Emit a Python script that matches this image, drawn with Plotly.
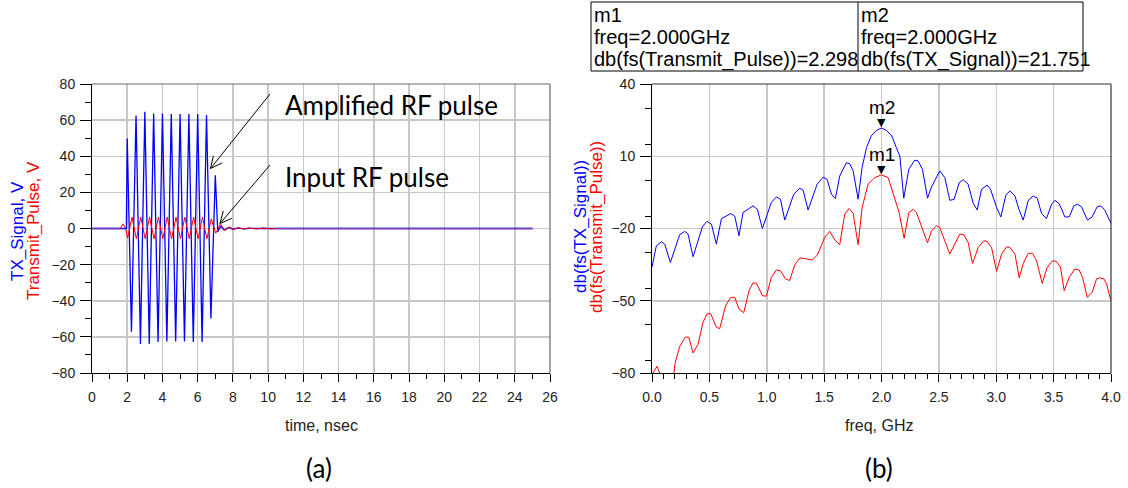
import math
import plotly.graph_objects as go

# ---------------- data : (a) time domain ----------------
tx_t = [0.0, 1.95, 2.0, 2.24, 2.5, 2.75, 3.0, 3.25, 3.5, 3.75, 4.0, 4.25, 4.5, 4.75, 5.0, 5.25,
        5.5, 5.75, 6.0, 6.25, 6.5, 6.75, 7.0, 7.14, 7.3, 7.5, 7.75, 8.0, 8.3, 8.6, 9.0, 9.5, 25.0]
tx_v = [0.0, 0.0, 49.8, -57.2, 62.6, -63.9, 64.6, -63.9, 63.7, -62.9, 63.7, -62.6, 63.4, -62.6, 63.4, -62.6,
        63.4, -62.9, 63.4, -62.9, 62.9, -49.8, 29.5, -1.8, 1.2, -0.8, 0.6, -0.4, 0.3, -0.2, 0.1, 0.0, 0.0]

tp_t = [0.0, 1.6, 1.76, 1.9, 2.02, 2.27, 2.52, 2.77, 3.02, 3.27, 3.52, 3.77, 4.02, 4.27, 4.52, 4.77,
        5.02, 5.27, 5.52, 5.77, 6.02, 6.27, 6.52, 6.77, 7.03, 7.29, 7.54, 7.8, 8.05, 8.3, 8.6, 8.9,
        9.3, 9.7, 10.1, 10.5, 25.0]
tp_v = [0.0, 0.0, 2.6, 0.0, -5.3, 6.3, -5.7, 6.3, -5.7, 6.3, -5.7, 6.3, -5.7, 6.3, -5.7, 6.3,
        -5.7, 6.3, -5.7, 6.3, -5.7, 6.3, -5.7, 5.3, -2.6, 2.6, -1.1, 0.7, -0.5, 0.5, -0.3, 0.4,
        -0.3, 0.3, -0.2, 0.0, 0.0]

# where both waveforms sit on 0 V together (rendered as the blended purple line)
overlap_t = [0.0, 1.55, None, 10.5, 25.0]
overlap_v = [0.0, 0.0, None, 0.0, 0.0]

# ---------------- data : (b) spectra ----------------
f_tx = [0.0, 0.038, 0.082, 0.111, 0.16, 0.241, 0.285, 0.314, 0.358, 0.44, 0.48, 0.518, 0.561, 0.605,
        0.686, 0.721, 0.758, 0.793, 0.88, 0.918, 0.962, 1.04, 1.084, 1.119, 1.157, 1.235, 1.288,
        1.317, 1.36, 1.439, 1.491, 1.526, 1.564, 1.598, 1.636, 1.694, 1.723, 1.753, 1.796, 1.831,
        1.869, 1.91, 1.955, 2.0, 2.045, 2.09, 2.13, 2.16, 2.194, 2.238, 2.29, 2.319, 2.357, 2.401,
        2.436, 2.508, 2.552, 2.595, 2.633, 2.677, 2.712, 2.755, 2.799, 2.834, 2.872, 2.921, 2.95,
        3.003, 3.04, 3.084, 3.119, 3.163, 3.197, 3.235, 3.279, 3.322, 3.357, 3.395, 3.438, 3.482,
        3.511, 3.549, 3.598, 3.636, 3.676, 3.708, 3.743, 3.795, 3.836, 3.879, 3.911, 3.946, 4.0]
db_tx = [-36.1, -27.2, -25.5, -26.5, -34.1, -22.6, -21.2, -22.3, -31.7, -19.2, -17.0, -18.2, -26.5, -15.9,
         -13.8, -14.8, -23.0, -13.4, -10.6, -12.0, -20.0, -9.2, -6.9, -7.8, -16.5, -5.8, -3.3,
         -4.1, -12.3, -1.6, 1.3, 0.4, -5.8, -7.6, 1.8, 7.3, 6.9, 3.9, -7.8, 5.4,
         13.5, 18.4, 20.7, 21.751, 20.7, 18.4, 13.5, 10.0, -7.4, 4.6, 8.4, 8.0, 4.6, -7.4,
         -2.7, 3.9, 1.1, -8.3, -7.9, -1.0, 0.3, -1.6, -9.5, -12.3, -3.7, -2.0, -3.7,
         -11.3, -15.2, -6.1, -4.4, -6.5, -12.0, -16.5, -8.3, -6.5, -7.4, -13.8, -15.9, -9.9,
         -8.3, -9.7, -15.2, -15.2, -10.6, -9.9, -11.0, -16.5, -15.2, -11.0, -10.6, -12.4, -17.9]

f_tp = [0.0, 0.009, 0.044, 0.067, 0.1, 0.15, 0.19, 0.2, 0.241, 0.29, 0.32, 0.358, 0.401, 0.445, 0.48,
        0.512, 0.561, 0.59, 0.642, 0.686, 0.721, 0.758, 0.799, 0.846, 0.88, 0.91, 0.962, 0.997,
        1.04, 1.084, 1.119, 1.163, 1.2, 1.244, 1.288, 1.325, 1.398, 1.441, 1.505, 1.549, 1.593,
        1.636, 1.68, 1.718, 1.753, 1.796, 1.831, 1.883, 1.941, 2.0, 2.058, 2.102, 2.154, 2.197,
        2.238, 2.276, 2.305, 2.401, 2.436, 2.479, 2.508, 2.595, 2.639, 2.683, 2.718, 2.755, 2.793,
        2.843, 2.892, 2.921, 2.959, 3.003, 3.047, 3.09, 3.119, 3.163, 3.2, 3.235, 3.279, 3.316,
        3.351, 3.401, 3.444, 3.491, 3.525, 3.56, 3.592, 3.636, 3.685, 3.723, 3.752, 3.793, 3.836,
        3.874, 3.903, 3.938, 3.961, 4.0]
db_tp = [-80.5, -80.0, -77.2, -80.0, -88.0, -86.0, -80.5, -76.0, -69.0, -65.1, -65.1, -71.7, -68.1, -58.9, -55.4,
         -55.4, -61.0, -61.6, -52.0, -48.6, -48.6, -53.4, -55.0, -45.8, -42.6, -42.7, -47.9, -48.1,
         -40.3, -37.2, -37.5, -40.9, -41.6, -35.1, -32.3, -32.4, -33.1, -31.0, -23.7, -21.2, -24.8,
         -26.7, -14.0, -11.7, -13.7, -26.7, -11.3, -1.6, 1.1, 2.298, 1.1, -5.1, -13.4, -24.1,
         -13.4, -12.0, -13.4, -26.0, -20.9, -18.9, -19.6, -30.6, -26.5, -22.3, -22.6, -25.8, -34.5,
         -27.9, -25.1, -25.4, -27.9, -37.8, -30.6, -27.6, -27.9, -30.6, -40.5, -34.5, -30.3, -30.3,
         -33.4, -42.8, -36.1, -33.4, -33.7, -36.1, -45.8, -40.3, -36.8, -37.2, -40.3, -48.6, -46.5,
         -40.9, -40.5, -40.9, -43.0, -50.2]

# markers
m_names = ["m1", "m2"]
m_freq = [2.000, 2.000]
m_vals = [2.298, 21.751]
m_exprs = ["db(fs(Transmit_Pulse))", "db(fs(TX_Signal))"]

# ---------------- layout constants (in screenshot pixels) ----------------
W, H = 1128, 488
L_X0, L_X1 = 92, 550
R_X0, R_X1 = 652, 1111
P_TOP, P_BOT = 84, 373
FONT = "Liberation Sans, Arial, sans-serif"
CAL = "Lato, Carlito, sans-serif"
BLUE = "#0000ff"
RED = "#ff0000"
GRID = "#c8c8c8"

def px(x):
    return x / W

def py(y):
    return 1 - y / H

fig = go.Figure()
fig.add_trace(go.Scatter(x=tx_t, y=tx_v, mode="lines", line=dict(color=BLUE, width=1.3),
                         xaxis="x", yaxis="y", showlegend=False))
fig.add_trace(go.Scatter(x=tp_t, y=tp_v, mode="lines", line=dict(color=RED, width=1.0),
                         xaxis="x", yaxis="y", showlegend=False))
fig.add_trace(go.Scatter(x=overlap_t, y=overlap_v, mode="lines", line=dict(color="#7a3ab8", width=1.6),
                         xaxis="x", yaxis="y", showlegend=False, connectgaps=False))
fig.add_trace(go.Scatter(x=f_tx, y=db_tx, mode="lines", line=dict(color=BLUE, width=1.0),
                         xaxis="x2", yaxis="y2", showlegend=False))
fig.add_trace(go.Scatter(x=f_tp, y=db_tp, mode="lines", line=dict(color=RED, width=1.0),
                         xaxis="x2", yaxis="y2", showlegend=False))

tickfont = dict(family=FONT, size=14, color="#222222")
common_axis = dict(showline=True, linecolor="black", linewidth=1, ticks="outside", tickcolor="black",
                   tickwidth=1, showgrid=True, gridcolor=GRID, gridwidth=1.5, zeroline=False,
                   tickfont=tickfont, fixedrange=True, automargin=False)

fig.update_layout(
    width=W, height=H, margin=dict(l=0, r=0, t=0, b=0, pad=0),
    paper_bgcolor="white", plot_bgcolor="white", showlegend=False,
    xaxis=dict(domain=[px(L_X0), px(L_X1)], range=[0, 26], tick0=0, dtick=2, ticklen=8,
               ticklabelstandoff=3, anchor="y",
               minor=dict(dtick=1, ticks="outside", ticklen=5, tickcolor="black", showgrid=False),
               **common_axis),
    yaxis=dict(domain=[py(P_BOT), py(P_TOP)], range=[-80, 80], tick0=-80, dtick=20, ticklen=11,
               ticklabelstandoff=2, anchor="x",
               minor=dict(dtick=10, ticks="outside", ticklen=6, tickcolor="black", showgrid=False),
               **common_axis),
    xaxis2=dict(domain=[px(R_X0), px(R_X1)], range=[0, 4], tick0=0, dtick=0.5, tickformat=".1f",
                ticklen=8, ticklabelstandoff=3, anchor="y2",
                minor=dict(dtick=0.1, ticks="outside", ticklen=5, tickcolor="black", showgrid=False),
                **common_axis),
    yaxis2=dict(domain=[py(P_BOT), py(P_TOP)], range=[-80, 40], tick0=-80, dtick=30, ticklen=11,
                ticklabelstandoff=2, anchor="x2",
                minor=dict(dtick=15, ticks="outside", ticklen=6, tickcolor="black", showgrid=False),
                **common_axis),
)

shapes = []
# top / right frame lines
for x0, x1, col in [(L_X0, L_X1, "#6a6a6a"), (R_X0, R_X1, "#333333")]:
    shapes.append(dict(type="line", xref="paper", yref="paper", x0=px(x0), x1=px(x1), y0=py(P_TOP), y1=py(P_TOP),
                       line=dict(color=col, width=1.2)))
    shapes.append(dict(type="line", xref="paper", yref="paper", x0=px(x1), x1=px(x1), y0=py(P_TOP), y1=py(P_BOT),
                       line=dict(color=col, width=1.2)))

# arrows (pixel positions of tail/head), drawn with open V heads
sx = (L_X1 - L_X0) / 26.0
sy = (P_BOT - P_TOP) / 160.0

def to_data(pxx, pyy):
    return (pxx - L_X0) / sx, (P_BOT - pyy) / sy - 80

arrows = [((270, 94), (210.5, 168.5)), ((270, 165), (220, 223.5))]
for (tx, ty), (hx, hy) in arrows:
    a = to_data(tx, ty)
    b = to_data(hx, hy)
    shapes.append(dict(type="line", xref="x", yref="y", x0=a[0], y0=a[1], x1=b[0], y1=b[1],
                       line=dict(color="black", width=1)))
    dx, dy = hx - tx, hy - ty
    n = math.hypot(dx, dy)
    ux, uy = dx / n, dy / n
    for ang in (0.45, -0.45):
        c, s = math.cos(ang), math.sin(ang)
        wx = hx - 13 * (ux * c - uy * s)
        wy = hy - 13 * (ux * s + uy * c)
        w = to_data(wx, wy)
        shapes.append(dict(type="line", xref="x", yref="y", x0=b[0], y0=b[1], x1=w[0], y1=w[1],
                           line=dict(color="black", width=1)))

# marker readout table
T_X0, T_X1, T_MID, T_Y0, T_Y1 = 591, 1083, 858, 2, 71
shapes.append(dict(type="rect", xref="paper", yref="paper", x0=px(T_X0), x1=px(T_X1), y0=py(T_Y1), y1=py(T_Y0),
                   line=dict(color="black", width=1), fillcolor="rgba(0,0,0,0)"))
shapes.append(dict(type="line", xref="paper", yref="paper", x0=px(T_MID), x1=px(T_MID), y0=py(T_Y1), y1=py(T_Y0),
                   line=dict(color="black", width=1)))

ann = []
for i, cx in enumerate([T_X0 + 1, T_MID + 1]):
    rows = [m_names[i], "freq=%.3fGHz" % m_freq[i], "%s=%s" % (m_exprs[i], ("%.3f" % m_vals[i]))]
    for j, txt in enumerate(rows):
        ann.append(dict(text=txt, xref="paper", yref="paper", x=px(cx), y=py(15 + 22.3 * j),
                        xanchor="left", yanchor="middle", showarrow=False,
                        font=dict(family=FONT, size=20, color="black")))

# marker symbols on the spectrum
for i in range(2):
    ann.append(dict(text="▼", xref="x2", yref="y2", x=m_freq[i], y=m_vals[i], xanchor="center",
                    yanchor="bottom", yshift=-3, showarrow=False,
                    font=dict(family="DejaVu Sans", size=11, color="black")))
    ann.append(dict(text=m_names[i], xref="x2", yref="y2", x=m_freq[i], y=m_vals[i], xanchor="center",
                    yanchor="bottom", yshift=8, showarrow=False,
                    font=dict(family=FONT, size=19, color="black")))

# axis titles
ann.append(dict(text="time, nsec", xref="paper", yref="paper", x=px(321), y=py(425), xanchor="center",
                yanchor="middle", showarrow=False, font=dict(family=FONT, size=16, color="#222222")))
ann.append(dict(text="freq, GHz", xref="paper", yref="paper", x=px(879), y=py(425), xanchor="center",
                yanchor="middle", showarrow=False, font=dict(family=FONT, size=16, color="#222222")))
for txt, cx, cy, col in [("TX_Signal, V", 17, 231, BLUE), ("Transmit_Pulse, V", 33, 231, RED),
                         ("db(fs(TX_Signal))", 580, 227, BLUE), ("db(fs(Transmit_Pulse))", 596, 227, RED)]:
    ann.append(dict(text=txt, xref="paper", yref="paper", x=px(cx), y=py(cy), xanchor="center",
                    yanchor="middle", textangle=-90, showarrow=False,
                    font=dict(family=FONT, size=17, color=col)))

# captions and call-outs
ann.append(dict(text="(a)", xref="paper", yref="paper", x=px(319), y=py(468), xanchor="center",
                yanchor="middle", showarrow=False, font=dict(family=CAL, size=26, color="black")))
ann.append(dict(text="(b)", xref="paper", yref="paper", x=px(879), y=py(468), xanchor="center",
                yanchor="middle", showarrow=False, font=dict(family=CAL, size=26, color="black")))
ann.append(dict(text="Amplified RF pulse", xref="paper", yref="paper", x=px(283), y=py(105), xanchor="left",
                yanchor="middle", showarrow=False, font=dict(family=CAL, size=26, color="black")))
ann.append(dict(text="Input RF pulse", xref="paper", yref="paper", x=px(283), y=py(177), xanchor="left",
                yanchor="middle", showarrow=False, font=dict(family=CAL, size=26, color="black")))

fig.update_layout(shapes=shapes, annotations=ann)
# place the figure flush with the page corner (remove the default 8px body margin)
fig.write_html("out.html", config={"displayModeBar": False, "staticPlot": True},
               post_script="document.body.style.margin='0px';")
